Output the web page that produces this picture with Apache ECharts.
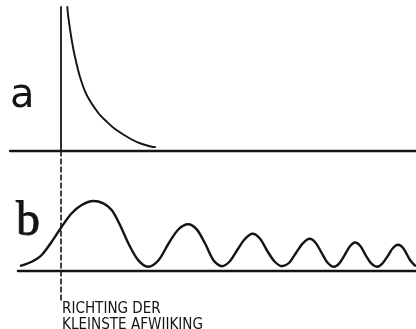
<!DOCTYPE html>
<html>
<head>
<meta charset="utf-8">
<script src="https://cdn.jsdelivr.net/npm/echarts@6/dist/echarts.min.js"></script>
<style>
html,body{margin:0;padding:0;background:#fff;}
#chart{width:416px;height:329px;}
</style>
</head>
<body>
<div id="chart"></div>
<script>
// Curve a: decaying curve right of the reference direction (x, height)
var curveA = [
  [0.63,14.4],[0.73,13.4],[1.07,11.1],[1.4,9.4],[1.9,7.4],[2.57,5.6],
  [3.73,3.8],[4.5,3.0],[5.4,2.2],[7.07,1.15],[8.1,0.7],[9.07,0.43],[9.4,0.4]
];
// Curve b: damped oscillation (x, height)
var curveB = [
  [-4.0,0.53],[-2.93,0.93],[-1.93,1.6],[-0.93,2.93],[0.07,4.43],[1.07,5.77],
  [2.07,6.6],[3.23,7.0],[4.23,6.77],[5.07,6.1],[5.9,4.6],[6.73,2.77],
  [7.57,1.27],[8.23,0.6],[8.73,0.43],
  [9.73,1.05],[10.73,2.7],[11.73,4.15],[12.73,4.67],
  [13.57,4.16],[14.41,2.75],[15.26,1.05],[16.1,0.48],
  [16.86,0.95],[17.63,2.1],[18.39,3.2],[19.15,3.72],
  [19.89,3.25],[20.63,2.0],[21.36,0.95],[22.1,0.48],
  [22.79,0.8],[23.48,1.78],[24.16,2.74],[24.85,3.22],
  [25.46,2.83],[26.08,1.78],[26.69,0.8],[27.3,0.42],
  [27.83,0.76],[28.35,1.57],[28.88,2.45],[29.4,2.85],
  [29.95,2.48],[30.5,1.52],[31.05,0.73],[31.6,0.42],
  [32.13,0.74],[32.65,1.46],[33.18,2.28],[33.7,2.62],
  [34.23,2.27],[34.9,1.1],[35.4,0.53]
];
// Baselines and the reference direction (x = 0)
var baseA = [[-5.1,0],[35.5,0]];
var baseB = [[-4.3,0],[35.5,0]];
var refSolid = [[0,0],[0,14.4]];
var refDashed = [[0,12],[0,-2.9]];
// Texts
var labelA = 'a';
var labelB = 'b';
var captionLines = ['RICHTING DER', 'KLEINSTE AFWIJKING'];

var ink = '#141414';

// pick a condensed family if installed, otherwise scale the regular one to the reference width
var ctx = document.createElement('canvas').getContext('2d');
function w(font, t){ ctx.font = font; return ctx.measureText(t).width; }
var capFamily = 'Liberation Sans', capSize = 15.7;
var cands = ['Liberation Sans Narrow', 'DejaVu Sans Condensed'];
for (var i = 0; i < cands.length; i++) {
  if (Math.abs(w('15.7px "' + cands[i] + '", monospace', captionLines[1]) - w('15.7px monospace', captionLines[1])) > 0.5) {
    capFamily = cands[i]; break;
  }
}
var wCap = w(capSize + 'px "' + capFamily + '"', captionLines[1]);
if (wCap > 145) capSize = capSize * 141 / wCap;

var chart = echarts.init(document.getElementById('chart'), null, {renderer:'canvas'});
function hiddenAxis(extra){
  return Object.assign({
    type:'value', show:true,
    axisLine:{show:false}, axisTick:{show:false}, axisLabel:{show:false}, splitLine:{show:false}
  }, extra);
}
function lineSeries(data, xi, width, dash, smooth){
  return {
    type:'line', xAxisIndex:xi, yAxisIndex:xi, data:data, showSymbol:false, symbol:'none',
    smooth:smooth || false, clip:false, silent:true,
    lineStyle:{color:ink, width:width, type:dash || 'solid', join:'round', cap:'round'}
  };
}
chart.setOption({
  animation:false,
  backgroundColor:'#ffffff',
  grid:[
    {left:11, right:0, top:0, height:151, containLabel:false},
    {left:11, right:0, top:151, height:149, containLabel:false}
  ],
  xAxis:[hiddenAxis({gridIndex:0, min:-5, max:35.5}), hiddenAxis({gridIndex:1, min:-5, max:35.5})],
  yAxis:[hiddenAxis({gridIndex:0, min:0, max:15.1}), hiddenAxis({gridIndex:1, min:-2.9, max:12})],
  series:[
    lineSeries(baseA, 0, 2.5),
    lineSeries(refSolid, 0, 1.8),
    lineSeries(curveA, 0, 1.9, null, 0.3),
    lineSeries(baseB, 1, 2.5),
    lineSeries(refDashed, 1, 1.6, [5,3]),
    lineSeries(curveB, 1, 2.4, null, 0.3)
  ],
  graphic:[
    {type:'text', x:10, y:97, style:{text:labelA, fontSize:40, fontFamily:'DejaVu Sans', fill:ink, verticalAlign:'middle'}},
    {type:'text', x:16, y:222, style:{text:labelB, fontSize:48, fontFamily:'Liberation Serif', fill:ink, verticalAlign:'middle', stroke:ink, lineWidth:0.8}},
    {type:'text', x:62, y:309, style:{text:captionLines[0], fontSize:capSize, fontFamily:capFamily, fill:ink, verticalAlign:'middle'}},
    {type:'text', x:62, y:325.5, style:{text:captionLines[1], fontSize:capSize, fontFamily:capFamily, fill:ink, verticalAlign:'middle'}}
  ]
});
</script>
</body>
</html>
